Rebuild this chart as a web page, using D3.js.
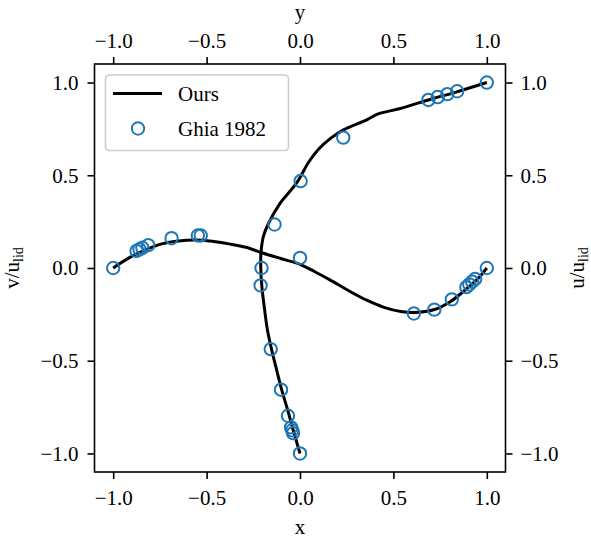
<!DOCTYPE html>
<html>
<head>
<meta charset="utf-8">
<script src="https://cdn.jsdelivr.net/npm/d3@7"></script>
<style>
  body { margin: 0; background: #fff; }
  svg text { font-family: "Liberation Serif", "DejaVu Serif", serif; fill: #000; }
</style>
</head>
<body>
<div id="chart"></div>
<script>
// Ghia et al. 1982, Re = 100, mapped to [-1, 1]
const ghiaX = [1.0, 0.9376, 0.9218, 0.9062, 0.8906, 0.8126, 0.7188, 0.6094, 0.0, -0.5312, -0.5468, -0.6874, -0.8124, -0.8438, -0.8594, -0.875, -1.0];
const ghiaV = [0, -0.05906, -0.07391, -0.08864, -0.10313, -0.16914, -0.22445, -0.24533, 0.05454, 0.17527, 0.17507, 0.16077, 0.12317, 0.10890, 0.10091, 0.09233, 0];
const ghiaY = [1.0, 0.9532, 0.9376, 0.9218, 0.9062, 0.7032, 0.4688, 0.2344, 0.0, -0.0938, -0.4374, -0.6562, -0.7968, -0.8594, -0.875, -0.8906, -1.0];
const ghiaU = [1.0, 0.84123, 0.78871, 0.73722, 0.68717, 0.23151, 0.00332, -0.13641, -0.20581, -0.21090, -0.15662, -0.10150, -0.06434, -0.04775, -0.04192, -0.03717, 0];

// our solution
const oursX = [-1.0, -0.92, -0.83, -0.74, -0.65, -0.56, -0.47, -0.38, -0.29, -0.2, -0.1, 0.0, 0.08, 0.16, 0.27, 0.36, 0.45, 0.54, 0.61, 0.72, 0.8, 0.9, 0.95, 1.0];
const oursV = [0.0, 0.052, 0.097, 0.13, 0.146, 0.151, 0.144, 0.13, 0.112, 0.081, 0.05, 0.02, -0.02, -0.064, -0.128, -0.175, -0.212, -0.235, -0.24, -0.224, -0.185, -0.105, -0.06, 0.0];
const oursY = [-1.0, -0.88, -0.78, -0.66, -0.55, -0.44, -0.33, -0.22, -0.10, 0.0, 0.08, 0.17, 0.24, 0.35, 0.46, 0.57, 0.64, 0.70, 0.745, 0.80, 0.83, 0.86, 0.91, 0.95, 1.0];
const oursU = [0.0, -0.035, -0.062, -0.097, -0.125, -0.152, -0.175, -0.19, -0.204, -0.21, -0.209, -0.196, -0.169, -0.106, -0.017, 0.046, 0.099, 0.165, 0.233, 0.36, 0.415, 0.537, 0.70, 0.84, 1.0];

const ticks = [-1.0, -0.5, 0.0, 0.5, 1.0];

const W = 591, H = 540;
const box = { left: 94.5, right: 505.5, top: 64, bottom: 472 };
const fs = 21;

const svg = d3.select('#chart').append('svg')
  .attr('width', W).attr('height', H);

const x = d3.scaleLinear().domain([-1.1, 1.1]).range([box.left, box.right]);
const y = d3.scaleLinear().domain([-1.1, 1.1]).range([box.bottom, box.top]);
const fmt = d3.format('.1f');

function styleAxis(g) {
  g.select('.domain').remove();
  g.selectAll('.tick line').attr('stroke', '#000').attr('stroke-width', 1.6);
  g.selectAll('.tick text').attr('font-size', fs).attr('font-family', '"Liberation Serif", serif');
}

svg.append('g').attr('transform', `translate(0,${box.bottom})`)
  .call(d3.axisBottom(x).tickValues(ticks).tickFormat(fmt).tickSize(7).tickPadding(11))
  .call(styleAxis);
svg.append('g').attr('transform', `translate(0,${box.top})`)
  .call(d3.axisTop(x).tickValues(ticks).tickFormat(fmt).tickSize(7).tickPadding(9))
  .call(styleAxis);
svg.append('g').attr('transform', `translate(${box.left},0)`)
  .call(d3.axisLeft(y).tickValues(ticks).tickFormat(fmt).tickSize(7).tickPadding(9))
  .call(styleAxis);
svg.append('g').attr('transform', `translate(${box.right},0)`)
  .call(d3.axisRight(y).tickValues(ticks).tickFormat(fmt).tickSize(7).tickPadding(8))
  .call(styleAxis);

// curves
const lineV = d3.line().x(i => x(oursX[i])).y(i => y(oursV[i])).curve(d3.curveCatmullRom.alpha(0.5));
const lineU = d3.line().x(i => x(oursU[i])).y(i => y(oursY[i])).curve(d3.curveCatmullRom.alpha(0.5));

svg.append('path').attr('d', lineV(d3.range(oursX.length)))
  .attr('fill', 'none').attr('stroke', '#000').attr('stroke-width', 3).attr('stroke-linejoin', 'round');
svg.append('path').attr('d', lineU(d3.range(oursY.length)))
  .attr('fill', 'none').attr('stroke', '#000').attr('stroke-width', 3).attr('stroke-linejoin', 'round');

const blue = '#1f77b4';
svg.append('g').selectAll('circle.v').data(d3.range(ghiaX.length)).join('circle')
  .attr('cx', i => x(ghiaX[i])).attr('cy', i => y(ghiaV[i])).attr('r', 6.2)
  .attr('fill', 'none').attr('stroke', blue).attr('stroke-width', 2);
svg.append('g').selectAll('circle.u').data(d3.range(ghiaY.length)).join('circle')
  .attr('cx', i => x(ghiaU[i])).attr('cy', i => y(ghiaY[i])).attr('r', 6.2)
  .attr('fill', 'none').attr('stroke', blue).attr('stroke-width', 2);

// frame
svg.append('rect')
  .attr('x', box.left).attr('y', box.top)
  .attr('width', box.right - box.left).attr('height', box.bottom - box.top)
  .attr('fill', 'none').attr('stroke', '#000').attr('stroke-width', 1.6);

// axis labels
svg.append('text').attr('x', x(0)).attr('y', 534).attr('text-anchor', 'middle')
  .attr('font-size', fs).text('x');
svg.append('text').attr('x', x(0)).attr('y', 19).attr('text-anchor', 'middle')
  .attr('font-size', fs).text('y');

function ylabel(cx, a) {
  const t = svg.append('text')
    .attr('transform', `translate(${cx},${y(0)}) rotate(-90)`)
    .attr('text-anchor', 'middle').attr('font-size', fs);
  t.append('tspan').text(a + '/u');
  t.append('tspan').attr('font-size', 14).attr('dy', 4).text('lid');
}
ylabel(19, 'v');
ylabel(584, 'u');

// legend
const leg = svg.append('g');
leg.append('rect').attr('x', 105.5).attr('y', 75).attr('width', 183).attr('height', 75.5)
  .attr('rx', 4).attr('fill', '#fff').attr('fill-opacity', 0.8)
  .attr('stroke', '#ccc').attr('stroke-width', 1.6);
leg.append('line').attr('x1', 113).attr('x2', 162).attr('y1', 93.5).attr('y2', 93.5)
  .attr('stroke', '#000').attr('stroke-width', 3);
leg.append('circle').attr('cx', 138).attr('cy', 128.5).attr('r', 6.2)
  .attr('fill', 'none').attr('stroke', blue).attr('stroke-width', 2);
leg.append('text').attr('x', 178).attr('y', 100.5).attr('font-size', fs).text('Ours');
leg.append('text').attr('x', 178).attr('y', 135.5).attr('font-size', fs).text('Ghia 1982');
</script>
</body>
</html>
